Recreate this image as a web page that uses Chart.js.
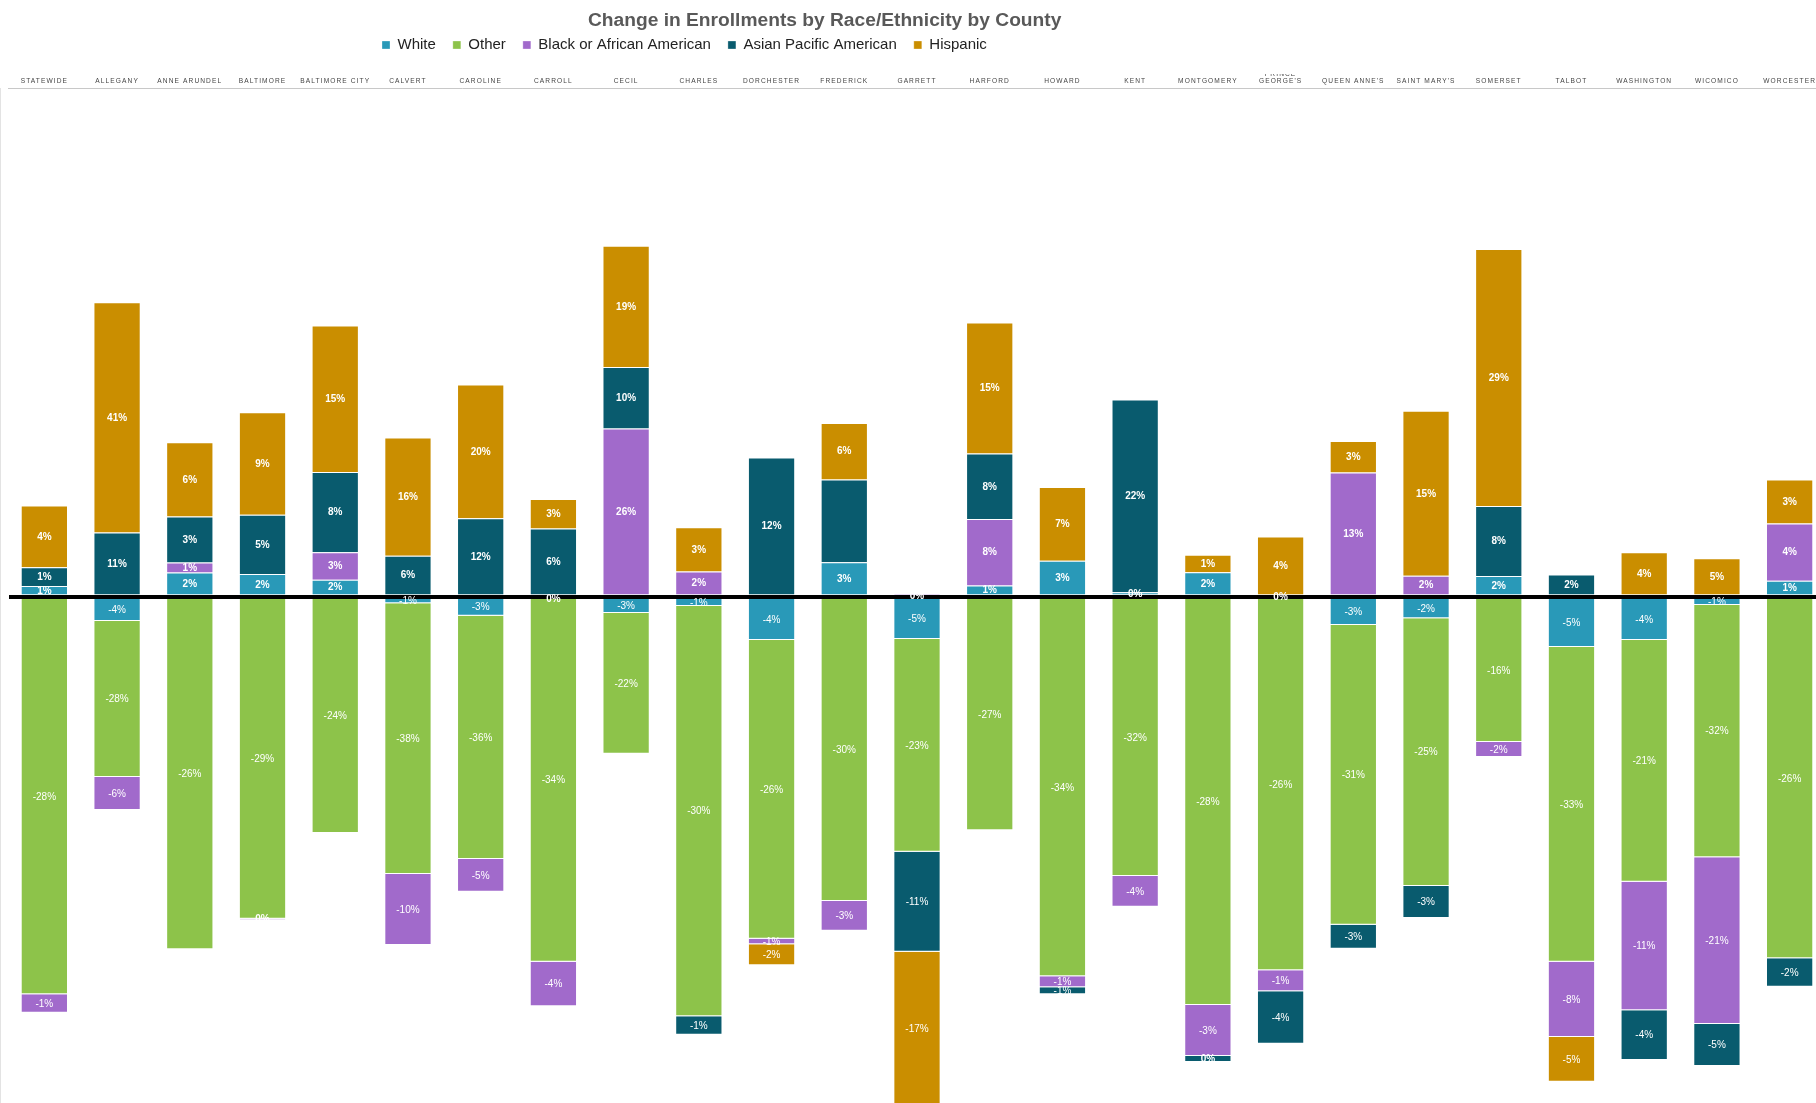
<!DOCTYPE html>
<html>
<head>
<meta charset="utf-8">
<title>Change in Enrollments by Race/Ethnicity by County</title>
<script src="https://cdn.jsdelivr.net/npm/chart.js@4.4.1/dist/chart.umd.min.js"></script>
<style>
  html, body { margin: 0; padding: 0; background: #fff; overflow: hidden; }
  canvas { display: block; }
</style>
</head>
<body>
<canvas id="chart" width="1826" height="1103"></canvas>
<script>
const FONT = "'Liberation Sans', Arial, sans-serif";

const counties = [
  "STATEWIDE", "ALLEGANY", "ANNE ARUNDEL", "BALTIMORE", "BALTIMORE CITY",
  "CALVERT", "CAROLINE", "CARROLL", "CECIL", "CHARLES", "DORCHESTER",
  "FREDERICK", "GARRETT", "HARFORD", "HOWARD", "KENT", "MONTGOMERY",
  ["PRINCE", "GEORGE'S"], "QUEEN ANNE'S", "SAINT MARY'S", "SOMERSET",
  "TALBOT", "WASHINGTON", "WICOMICO", "WORCESTER",
];

// Bar heights (segment size as drawn), one value per county.
const white = [10.4, -24.5, 23.9, 22.5, 16.8, -6.8, -19.2, -2, -16.5, -9.5, -43.5, 34.3, -42.5, 11.1, 35.7, 4.3, 24.3, 0, -28.5, -21.8, 20.4, -50.5, -43.5, -8.5, 15.7];
const other = [-397.8, -156, -352.8, -322.2, -236.5, -270.7, -243.3, -363.2, -140.7, -410.3, -298.7, -304.5, -212.7, -233.8, -379.8, -279.5, -408.5, -373.8, -299.7, -267.7, -145.5, -314.7, -241.7, -252.3, -361.8];
const black = [-18.4, -33, 10, -1, 27.5, -71, -32.7, -44.6, 167.9, 25, -5.6, -29.7, 0.1, 66.4, -11, -30.7, -51, -21, 123.9, 20.7, -15, -75.3, -128.6, -166.7, 57.2];
const asian = [18.9, 63.9, 46.1, 59.3, 80.3, 40.7, 78.2, 67.9, 61.7, -18.4, 138.9, 82.8, -100, 65.4, -7, 192.8, -6, -52.4, -24, -32, 70, 22.1, -49.7, -42, -28.4];
const hispanic = [61.8, 230.4, 74.3, 102.5, 146.5, 118.2, 133.9, 29.6, 121.1, 44.3, -21, 56.5, -155, 131, 73.9, null, 17.5, 60, 31.5, 165, 257.1, -44.7, 44.3, 38.2, 44.2];

// Percent change printed inside each segment.
const whitePct = ["1%", "-4%", "2%", "2%", "2%", "-1%", "-3%", "0%", "-3%", "-1%", "-4%", "3%", "-5%", "1%", "3%", "0%", "2%", "0%", "-3%", "-2%", "2%", "-5%", "-4%", "-1%", "1%"];
const otherPct = ["-28%", "-28%", "-26%", "-29%", "-24%", "-38%", "-36%", "-34%", "-22%", "-30%", "-26%", "-30%", "-23%", "-27%", "-34%", "-32%", "-28%", "-26%", "-31%", "-25%", "-16%", "-33%", "-21%", "-32%", "-26%"];
const blackPct = ["-1%", "-6%", "1%", "0%", "3%", "-10%", "-5%", "-4%", "26%", "2%", "-1%", "-3%", "0%", "8%", "-1%", "-4%", "-3%", "-1%", "13%", "2%", "-2%", "-8%", "-11%", "-21%", "4%"];
const asianPct = ["1%", "11%", "3%", "5%", "8%", "6%", "12%", "6%", "10%", "-1%", "12%", null, "-11%", "8%", "-1%", "22%", "0%", "-4%", "-3%", "-3%", "8%", "2%", "-4%", "-5%", "-2%"];
const hispanicPct = ["4%", "41%", "6%", "9%", "15%", "16%", "20%", "3%", "19%", "3%", "-2%", "6%", "-17%", "15%", "7%", null, "1%", "4%", "3%", "15%", "29%", "-5%", "4%", "5%", "3%"];

const Y_MIN = -506.5;
const Y_MAX = 508.5;

const series = [
  { label: "White", data: white, pct: whitePct, color: "#2999b8" },
  { label: "Other", data: other, pct: otherPct, color: "#8dc34a" },
  { label: "Black or African American", data: black, pct: blackPct, color: "#a16acb" },
  { label: "Asian Pacific American", data: asian, pct: asianPct, color: "#095b6e" },
  { label: "Hispanic", data: hispanic, pct: hispanicPct, color: "#ca8e00" },
];

// Title / legend sit off-centre in the original, place them by hand.
const TITLE_X = 588;
const LEGEND_X = 382;
const LEGEND_TOP = 20.5;
const LEGEND_PAD = 17;
const TICK_SPACING = "1.1px";

const segmentLabels = {
  id: "segmentLabels",
  afterLayout(chart) {
    chart.titleBlock.left = TITLE_X;
    chart.legend.left = LEGEND_X - LEGEND_PAD;
    chart.legend.top = LEGEND_TOP;
  },
  afterDatasetsDraw(chart) {
    // the top axis labels are drawn after the datasets (ticks.z: 1), spaced out
    chart.ctx.letterSpacing = TICK_SPACING;
  },
  afterDraw(chart) {
    const ctx = chart.ctx;
    ctx.letterSpacing = "0px";
    ctx.save();
    ctx.fillStyle = "#fff";
    ctx.textAlign = "center";
    ctx.textBaseline = "middle";
    chart.data.datasets.forEach((ds, i) => {
      const meta = chart.getDatasetMeta(i);
      meta.data.forEach((bar, j) => {
        const txt = ds.pct[j];
        if (txt == null || ds.data[j] == null) return;
        const { x, y, base } = bar.getProps(["x", "y", "base"], true);
        const neg = txt.startsWith("-");
        ctx.font = (neg ? "" : "bold ") + "10px " + FONT;
        ctx.fillText(txt, x, (y + base) / 2 + 0.5);
      });
    });
    ctx.restore();
  },
};

new Chart(document.getElementById("chart"), {
  type: "bar",
  data: {
    labels: counties,
    datasets: series.map((s) => ({
      label: s.label,
      data: s.data,
      pct: s.pct,
      backgroundColor: s.color,
      borderColor: "rgba(255,255,255,0.3)",
      borderWidth: 1,
      barPercentage: 0.65,
      categoryPercentage: 1,
    })),
  },
  options: {
    responsive: false,
    devicePixelRatio: 1,
    animation: false,
    layout: { padding: { left: 8, right: 0, top: 0, bottom: 0 } },
    plugins: {
      title: {
        display: true,
        text: "Change in Enrollments by Race/Ethnicity by County",
        align: "start",
        color: "#595959",
        font: { family: FONT, size: 19.2, weight: "bold" },
        padding: { top: 9, bottom: 0 },
      },
      legend: {
        position: "top",
        align: "start",
        labels: {
          boxWidth: 8,
          boxHeight: 8,
          padding: LEGEND_PAD,
          color: "#222",
          font: { family: FONT, size: 15 },
        },
      },
      tooltip: { enabled: false },
    },
    scales: {
      x: {
        position: "top",
        stacked: true,
        grid: { display: false, drawTicks: false },
        border: { display: true, color: "#c8c8c8", width: 1 },
        ticks: {
          z: 1,
          autoSkip: false,
          maxRotation: 0,
          padding: 4,
          color: "#444",
          font: { family: FONT, size: 6.6, lineHeight: 1.0 },
        },
        afterFit: (scale) => { scale.height = 13.96; },
      },
      y: {
        stacked: true,
        min: Y_MIN,
        max: Y_MAX,
        ticks: { display: false, stepSize: 100 },
        grid: {
          z: 1,
          drawTicks: false,
          color: (c) => (c.tick.value === 0 ? "#000" : "rgba(0,0,0,0)"),
          lineWidth: (c) => (c.tick.value === 0 ? 4 : 0),
        },
        border: { display: true, color: "#c8c8c8", width: 1 },
        afterFit: (scale) => { scale.width = 0; },
      },
    },
  },
  plugins: [segmentLabels],
});
</script>
</body>
</html>
